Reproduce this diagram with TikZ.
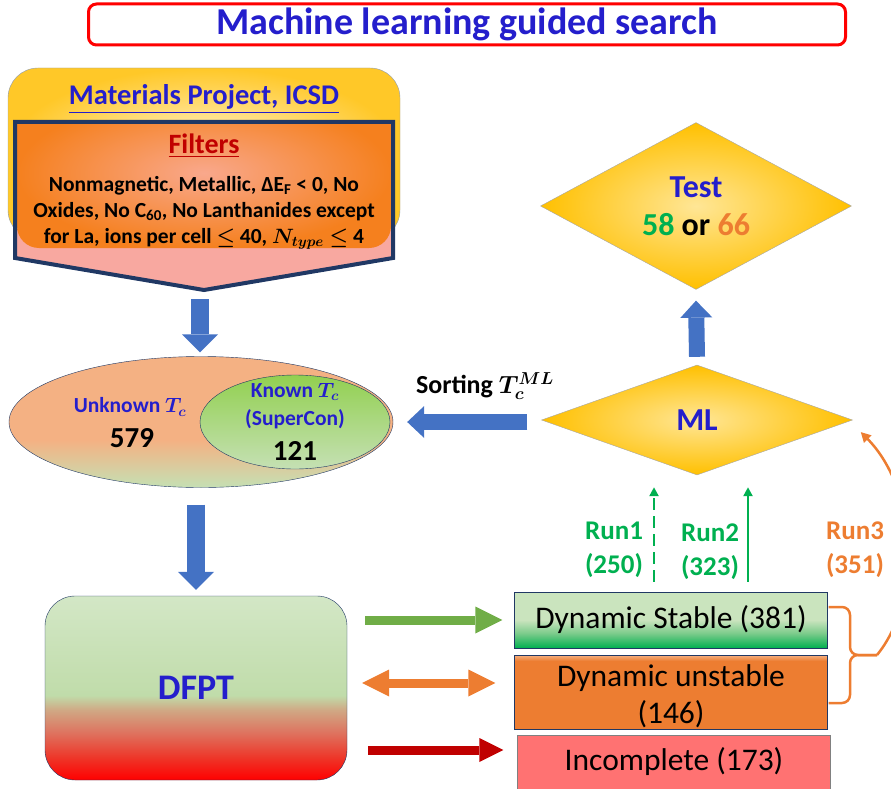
\documentclass[tikz,border=0pt]{standalone}
\usepackage{fontspec}
\setmainfont{Carlito}
\usepackage{amsmath}
\usepackage{bm}
\usetikzlibrary{shapes.geometric,arrows.meta,calc}

\definecolor{ttlblue}{RGB}{36,30,204}
\definecolor{navy}{RGB}{32,56,100}
\definecolor{arrblue}{RGB}{68,114,196}
\definecolor{mlgreen}{RGB}{112,173,71}
\definecolor{mlorange}{RGB}{237,125,49}
\definecolor{mlred}{RGB}{192,0,0}
\definecolor{rungreen}{RGB}{0,176,80}
\definecolor{salmon}{RGB}{244,177,131}
\definecolor{palegreen}{RGB}{197,224,180}
\definecolor{knowntop}{RGB}{146,208,80}
\definecolor{gold}{RGB}{255,192,0}
\definecolor{lightgold}{RGB}{255,230,150}
\definecolor{srclight}{RGB}{255,246,218}
\definecolor{srcgold}{RGB}{255,200,40}
\definecolor{filtlight}{RGB}{249,168,140}
\definecolor{filtorange}{RGB}{245,128,30}
\definecolor{pinkfill}{RGB}{248,168,160}
\definecolor{incred}{RGB}{255,114,114}
\definecolor{dfpttop}{RGB}{211,231,198}
\definecolor{dfptgreen}{RGB}{192,220,170}
\definecolor{dfpttan}{RGB}{208,168,132}
\definecolor{dfptsalmon}{RGB}{222,116,96}
\definecolor{dfptmix}{RGB}{238,53,40}
\definecolor{stabletop}{RGB}{202,228,190}
\definecolor{stablemid}{RGB}{122,203,138}

\pgfdeclareverticalshading{poolshade}{100bp}{color(0bp)=(palegreen); color(25bp)=(palegreen); color(43bp)=(salmon); color(100bp)=(salmon)}
\pgfdeclareverticalshading{dfptshade}{100bp}{color(0bp)=(red); color(25bp)=(red); color(31bp)=(dfptmix); color(38bp)=(dfptsalmon); color(44bp)=(dfpttan); color(48bp)=(dfptgreen); color(75bp)=(dfpttop); color(100bp)=(dfpttop)}
\pgfdeclareverticalshading{stableshade}{100bp}{color(0bp)=(rungreen); color(25bp)=(rungreen); color(38bp)=(stablemid); color(50bp)=(stabletop); color(100bp)=(stabletop)}
\pgfdeclareverticalshading{unstabshade}{100bp}{color(0bp)=(mlorange); color(71bp)=(mlorange); color(75bp)=(salmon); color(100bp)=(salmon)}

\begin{document}
\begin{tikzpicture}[x=1pt, y=-1pt,
    ttlbox/.style={draw=red, line width=3pt, rounded corners=8pt,
                   minimum width=757pt, minimum height=41pt, text=ttlblue,
                   font=\bfseries\fontsize{38}{40}\selectfont},
    lbl/.style={font=\bfseries\fontsize{21.5}{28}\selectfont, text=ttlblue, align=center},
    num/.style={font=\bfseries\fontsize{29}{30}\selectfont},
    dmd/.style={diamond, draw=gray!70, inner color=lightgold, outer color=gold,
                minimum width=311pt, minimum height=110pt, inner sep=0pt,
                align=center, text=ttlblue, font=\bfseries\fontsize{32}{38}\selectfont},
    rbox/.style={rectangle, draw=navy, minimum width=313pt, align=center,
                 font=\fontsize{31.5}{37}\selectfont},
    barr/.style={arrblue, line width=18pt, -{Triangle[width=36pt,length=18pt,line width'=0pt]}},
    barrs/.style={arrblue, line width=16pt, -{Triangle[width=32pt,length=17pt,line width'=0pt]}},
    farr/.style={line width=9pt, -{Triangle[width=27pt,length=27pt,line width'=0pt]}},
    rarr/.style={line width=2.5pt, -{Triangle[width=9pt,length=9pt]}},
    runlbl/.style={font=\bfseries\fontsize{27}{34}\selectfont, align=center},
  ]
  \useasboundingbox (0,0) rectangle (891,789);

  % --- Title ---
  \node[ttlbox] (ttl) at (467,24.5) {Machine learning guided search};

  % --- Database and filters ---
  \node[rectangle, rounded corners=30pt, draw=navy!50, inner color=srclight,
        outer color=srcgold, minimum width=392pt, minimum height=172pt] (srcbox) at (204,154) {};
  \fill[pinkfill] (15,122) -- (393,122) -- (393,258) -- (204,290) -- (15,258) -- cycle;
  \begin{scope}
    \clip (15,122) -- (393,122) -- (393,258) -- (204,290) -- (15,258) -- cycle;
    \shade[rounded corners=22pt, inner color=filtlight, outer color=filtorange]
      (17,98) rectangle (391,248);
  \end{scope}
  \draw[navy, line width=4pt] (15,122) -- (393,122) -- (393,258) -- (204,290) -- (15,258) -- cycle;
  \coordinate (filtend) at (200,299);

  \node[font=\bfseries\fontsize{28.5}{30}\selectfont, text=ttlblue] (src) at (204,99)
    {\underline{Materials Project, ICSD}};
  \node[font=\bfseries\fontsize{28}{30}\selectfont, text=mlred] (filt) at (204,146)
    {\underline{Filters}};
  \node[align=center, font=\bfseries\fontsize{21.5}{26}\selectfont] (crit) at (204,213)
    {Nonmagnetic, Metallic, ΔE\textsubscript{F} < 0, No\\
     Oxides, No C\textsubscript{60}, No Lanthanides except\\
     for La, ions per cell $\bm{\le}$ 40, $\bm{N_{type}\le}$ 4};

  % --- Candidate pool ---
  \node[ellipse, draw=navy, shade, shading=poolshade,
        minimum width=384pt, minimum height=131pt] (pool) at (201,422) {};
  \node[ellipse, draw=navy, top color=knowntop, bottom color=palegreen,
        minimum width=190pt, minimum height=94pt] (known) at (295,422) {};
  \node[lbl] (unk) at (130,407) {Unknown $\bm{T_c}$};
  \node[num] (unknum) at (132,438) {579};
  \node[lbl] (knw) at (295,406) {Known $\bm{T_c}$\\(SuperCon)};
  \node[num] (knwnum) at (295,451) {121};

  \draw[barr] (filtend) -- ($(filtend |- pool.north)+(0,-4)$);

  % --- DFPT ---
  \node[rectangle, rounded corners=30pt, draw=navy, shade, shading=dfptshade,
        minimum width=302pt, minimum height=184pt, text=ttlblue,
        font=\bfseries\fontsize{36}{40}\selectfont] (dfpt) at (196,688) {DFPT};
  \draw[barr] ($(pool.south -| dfpt.north)+(0,17)$) -- ($(dfpt.north)+(0,-6)$);

  % --- Outcome boxes ---
  \node[rbox, shade, shading=stableshade, minimum height=56pt] (stable) at (671,620)
    {Dynamic Stable (381)};
  \node[rbox, shade, shading=unstabshade, minimum height=74pt,
        label={[align=center, font=\fontsize{31.5}{37}\selectfont, yshift=-4pt]center:Dynamic unstable\\(146)}]
    (unstab) at (671,692) {};
  \node[rbox, draw=gray, fill=incred, minimum height=54pt] (incomp) at (674,762)
    {Incomplete (173)};

  \draw[farr, mlgreen] ($(dfpt.east |- stable.west)+(18,0)$) -- ($(stable.west)+(-12,0)$);
  \draw[farr, mlorange, {Triangle[width=27pt,length=27pt,line width'=0pt]}-{Triangle[width=27pt,length=27pt,line width'=0pt]}]
    ($(dfpt.east |- unstab.west)+(15,-9)$) -- ($(unstab.west)+(-19,-9)$);
  \draw[farr, mlred, -{Triangle[width=24pt,length=24pt,line width'=0pt]}]
    ($(dfpt.east |- incomp.west)+(21,-12)$) -- ($(incomp.west)+(-14,-12)$);

  % --- ML and test ---
  \node[dmd] (ml) at (697,420) {ML};
  \node[dmd] (tst) at (696,206)
    {Test\\\textcolor{rungreen}{58} \textcolor{black}{or} \textcolor{mlorange}{66}};
  \draw[barrs] ($(ml.north)+(0,-8)$) -- ($(tst.south)+(0,11)$);
  \draw[barrs] ($(ml.west)+(-14,2)$) -- ($(ml.west -| pool.east)+(14,2)$);
  \node[font=\bfseries\fontsize{26}{30}\selectfont] (sortlbl) at (485,386) {Sorting $\bm{T_c^{ML}}$};

  % --- Training runs ---
  \draw[rarr, rungreen, dash pattern=on 12pt off 6pt] ($(stable.north)+(-17,-10)$) -- ($(ml.south)+(-43,12)$);
  \draw[rarr, rungreen] ($(stable.north)+(77,-10)$) -- ($(ml.south)+(51,12)$);
  \node[runlbl, text=rungreen] (run1) at (614,550) {Run1\\(250)};
  \node[runlbl, text=rungreen] (run2) at (710,552) {Run2\\(323)};
  \node[runlbl, text=mlorange] (run3) at (855,550) {Run3\\(351)};

  \coordinate (brtip) at (877,655);
  \draw[mlorange, line width=2.5pt, rounded corners=8pt]
    ($(stable.east)+(1,-13)$) -- (850,607) -- (850,655) -- (brtip);
  \draw[mlorange, line width=2.5pt, rounded corners=8pt]
    ($(unstab.east)+(1,11)$) -- (850,703) -- (850,655) -- (brtip);
  \draw[mlorange, line width=2.5pt, -{Triangle[width=10pt,length=10pt]}]
    (brtip) .. controls (922,600) and (918,490) .. ($(ml.east)+(8,12)$);

\end{tikzpicture}
\end{document}
